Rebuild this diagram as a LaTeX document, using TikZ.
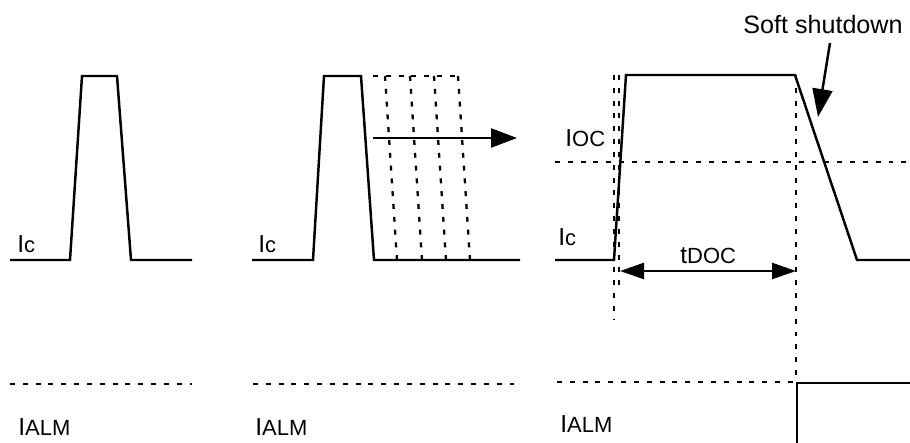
\documentclass[tikz,border=0pt]{standalone}
\usepackage{fontspec}
\setmainfont{Liberation Sans}
\usepackage{tikz}
\usetikzlibrary{arrows.meta}

\newcommand{\sig}[2]{{\fontsize{14}{16}\selectfont #1}{\fontsize{12.5}{14}\selectfont #2}}

\begin{document}
\begin{tikzpicture}[
  wave/.style={line width=1.4pt},
  guide/.style={line width=1.3pt, dash pattern=on 2.8pt off 4.5pt},
  lbl/.style={inner sep=0pt, anchor=base west}]

\useasboundingbox (0,0) rectangle (18.2,-8.86);

% first pulse
\draw[wave] (0.2,-5.2) -- (1.4,-5.2) -- (1.64,-1.52) -- (2.34,-1.52) -- (2.62,-5.2) -- (3.84,-5.2);

\node[lbl] (ic1) at (0.34,-5.04) {\sig{I}{c}};

% second pulse
\draw[wave] (5.04,-5.2) -- (6.26,-5.2) -- (6.48,-1.52) -- (7.22,-1.52) -- (7.48,-5.2) -- (10.4,-5.2);

\draw[guide] (7.46,-1.52) -- (9.16,-1.52);
\draw[guide] (7.7,-1.52) -- (7.94,-5.2);
\draw[guide] (8.2,-1.52) -- (8.44,-5.2);
\draw[guide] (8.68,-1.52) -- (8.92,-5.2);
\draw[guide] (9.16,-1.52) -- (9.4,-5.2);

\coordinate (s0) at (7.46,-2.76);
\coordinate (s1) at (10.34,-2.76);
\draw[wave][-{Triangle[length=0.52cm,width=0.38cm]}] (s0) -- (s1);

\node[lbl] (ic2) at (5.16,-5.04) {\sig{I}{c}};

% third pulse
\draw[wave] (11.1,-5.2) -- (12.28,-5.2) -- (12.52,-1.5) -- (15.9,-1.5) -- (17.14,-5.2) -- (18.2,-5.2);

\draw[guide] (11.1,-3.24) -- (18.2,-3.24);
\draw[guide] (12.28,-1.5) -- (12.28,-6.4);
\draw[guide] (12.38,-1.5) -- (12.38,-5.8);
\draw[guide] (15.92,-1.5) -- (15.92,-7.64);

\node[lbl] (ic3) at (11.16,-4.9) {\sig{I}{c}};
\node[lbl] (ioc) at (11.3,-2.92) {\sig{I}{OC}};
\node[lbl] (tdoc) at (13.6,-5.26) {\sig{t}{DOC}};

\coordinate (d0) at (12.4,-5.42);
\coordinate (d1) at (15.92,-5.42);
\draw[wave][{Triangle[length=0.48cm,width=0.32cm]}-{Triangle[length=0.48cm,width=0.32cm]}] (d0) -- (d1);

\node[lbl] (soft) at (14.86,-0.66) {\fontsize{14.3}{17}\selectfont Soft shutdown};

\coordinate (a0) at (16.6,-0.86);
\coordinate (a1) at (16.36,-2.34);
\draw[wave][-{Triangle[length=0.56cm,width=0.4cm]}] (a0) -- (a1);

% alarm level
\draw[guide] (0.2,-7.68) -- (3.84,-7.68);
\draw[guide] (5.06,-7.68) -- (10.36,-7.68);
\draw[guide] (11.14,-7.64) -- (15.92,-7.64);

\draw[wave] (15.94,-8.86) -- (15.94,-7.66) -- (18.2,-7.66);

\node[lbl] (alm1) at (0.36,-8.7) {\sig{I}{ALM}};
\node[lbl] (alm2) at (5.1,-8.7) {\sig{I}{ALM}};
\node[lbl] (alm3) at (11.2,-8.64) {\sig{I}{ALM}};

\end{tikzpicture}
\end{document}
